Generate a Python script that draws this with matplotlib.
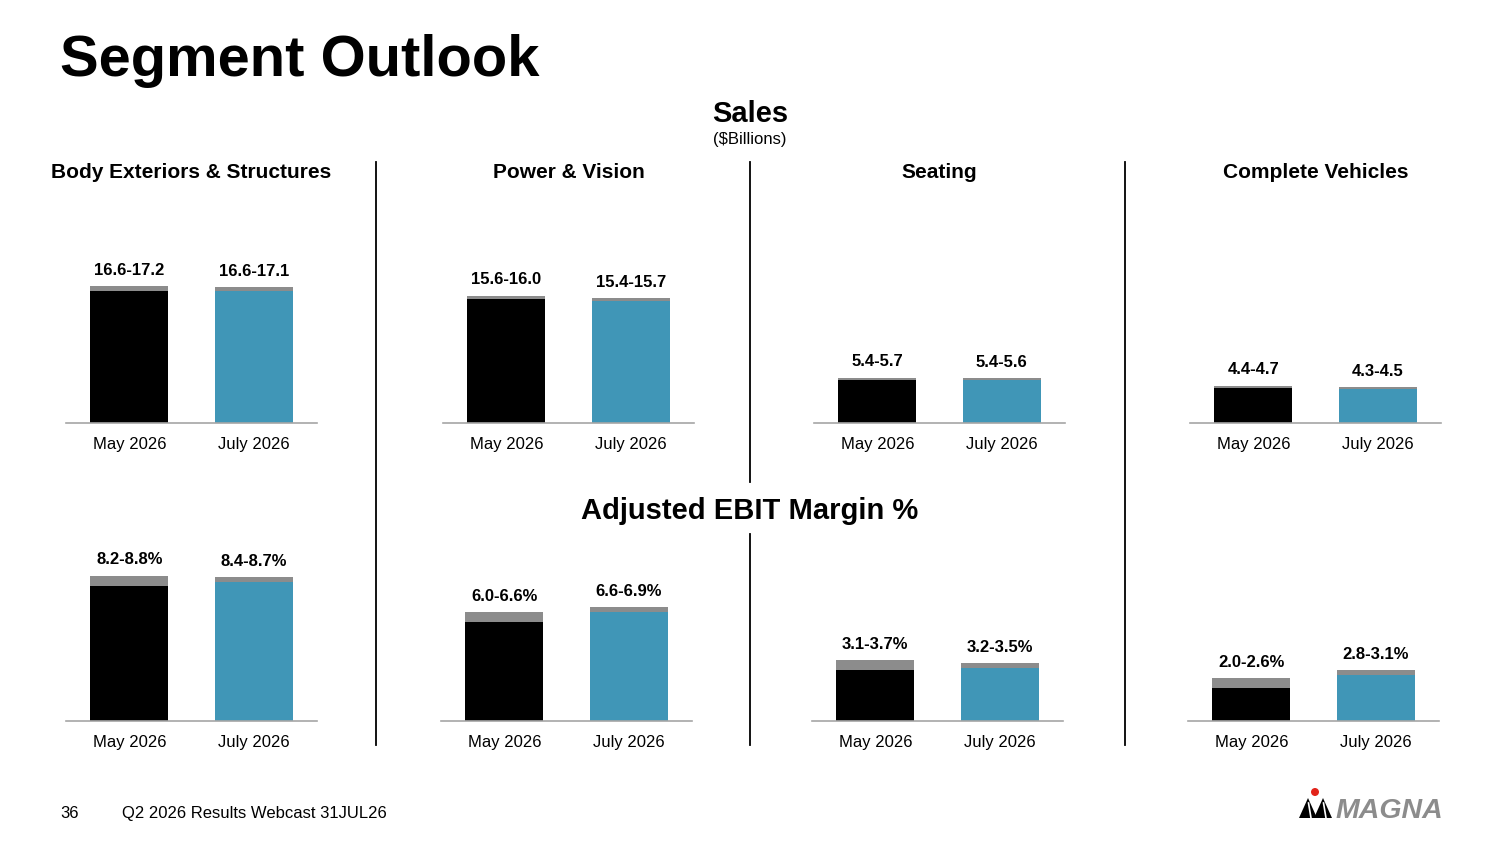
import matplotlib
matplotlib.use("Agg")
import matplotlib.pyplot as plt
from matplotlib.patches import Polygon, Ellipse
from matplotlib.lines import Line2D

plt.rcParams["font.family"] = ["Liberation Sans", "DejaVu Sans"]

segments = ["Body Exteriors & Structures", "Power & Vision", "Seating", "Complete Vehicles"]
periods = ["May 2026", "July 2026"]
sales_low = [[16.6, 16.6], [15.6, 15.4], [5.4, 5.4], [4.4, 4.3]]
sales_high = [[17.2, 17.1], [16.0, 15.7], [5.7, 5.6], [4.7, 4.5]]
ebit_low = [[8.2, 8.4], [6.0, 6.6], [3.1, 3.2], [2.0, 2.8]]
ebit_high = [[8.8, 8.7], [6.6, 6.9], [3.7, 3.5], [2.6, 3.1]]

BLACK = "#000000"
BLUE = "#4096B7"
GREY = "#8C8C8C"
AXIS = "#A6A6A6"

W, H = 1500, 844
fig = plt.figure(figsize=(15, 8.44), dpi=100)


def fx(x):
    return x / W


def fy(y):
    return 1 - y / H


def panel(left, base, ylim_top, px_per_unit, lows, highs, suffix):
    height = ylim_top * px_per_unit
    ax = fig.add_axes([fx(left), fy(base), 251 / W, height / H])
    x = [0, 1]
    ax.bar(x, lows, width=0.628, color=[BLACK, BLUE])
    tops = [h - l for l, h in zip(lows, highs)]
    ax.bar(x, tops, width=0.628, bottom=lows, color=GREY)
    for xi, lo, hi in zip(x, lows, highs):
        ax.annotate(f"{lo:.1f}-{hi:.1f}{suffix}", (xi, hi), xytext=(0, 6),
                    textcoords="offset points", ha="center", va="bottom",
                    fontsize=12, fontweight="bold")
    ax.set_xlim(-0.51, 1.51)
    ax.set_ylim(0, ylim_top)
    ax.set_xticks(x)
    ax.set_xticklabels(periods, fontsize=12)
    ax.tick_params(axis="x", length=0, pad=10)
    ax.set_yticks([])
    for s in ["top", "left", "right"]:
        ax.spines[s].set_visible(False)
    ax.spines["bottom"].set_color(AXIS)
    ax.spines["bottom"].set_linewidth(1.2)
    ax.patch.set_alpha(0)
    return ax


sales_left = [66, 443, 814, 1190]
ebit_left = [66, 441, 812, 1188]
for i in range(4):
    panel(sales_left[i], 423, 28, 7.95, sales_low[i], sales_high[i], "")
    panel(ebit_left[i], 721, 12, 16.5, ebit_low[i], ebit_high[i], "%")
    fig.text(fx(sales_left[i] + 125.5), fy(173), segments[i], ha="center", va="center",
             fontsize=15, fontweight="bold")

# dividers
for x, spans in [(376, [(162, 745)]), (750, [(162, 482), (534, 745)]), (1125, [(162, 745)])]:
    for y0, y1 in spans:
        fig.add_artist(Line2D([fx(x), fx(x)], [fy(y0), fy(y1)], color="black", lw=1.3))

fig.text(fx(60), fy(76), "Segment Outlook", ha="left", va="baseline",
         fontsize=41.7, fontweight="bold")
fig.text(fx(750), fy(122), "Sales", ha="center", va="baseline", fontsize=21, fontweight="bold")
fig.text(fx(750), fy(144), "($Billions)", ha="center", va="baseline", fontsize=12)
fig.text(fx(750), fy(519), "Adjusted EBIT Margin %", ha="center", va="baseline",
         fontsize=21, fontweight="bold")

fig.text(fx(60), fy(818), "36", ha="left", va="baseline", fontsize=12)
fig.text(fx(122), fy(818), "Q2 2026 Results Webcast 31JUL26", ha="left", va="baseline", fontsize=12)

# logo
for ax_, bl, br in [(1308, 1299, 1317), (1323, 1314, 1332)]:
    fig.add_artist(Polygon([(fx(bl), fy(818)), (fx(ax_), fy(798)), (fx(br), fy(818))],
                           closed=True, facecolor="black", edgecolor="none",
                           transform=fig.transFigure))
    fig.add_artist(Line2D([fx(ax_ + 0.5), fx(ax_ + 3)], [fy(803), fy(818)],
                          color="white", lw=1.2))
fig.add_artist(Ellipse((fx(1315), fy(792)), 8 / W, 8 / H, facecolor="#E2231A",
                       edgecolor="none", transform=fig.transFigure))
fig.text(fx(1335), fy(818), "MAGNA", ha="left", va="baseline", fontsize=20.5,
         fontweight="bold", fontstyle="italic", color=GREY)

fig.savefig("out.png", dpi=100)
